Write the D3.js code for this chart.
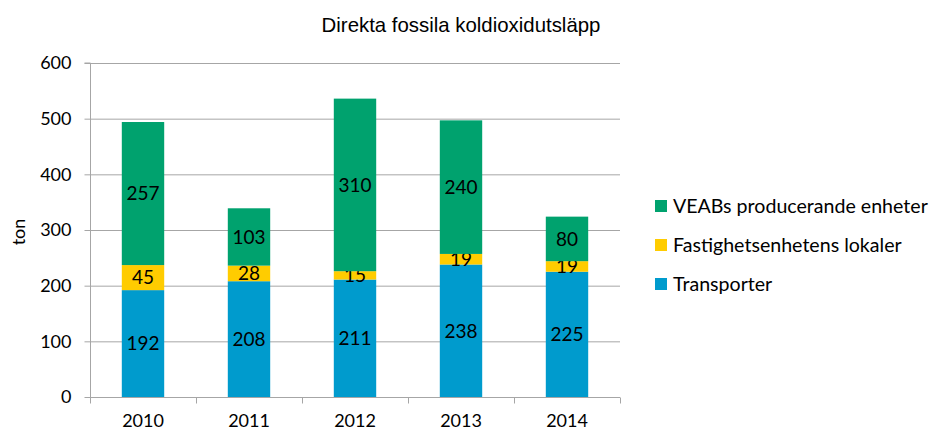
<!DOCTYPE html>
<html><head><meta charset="utf-8">
<script src="https://cdn.jsdelivr.net/npm/d3@7"></script>
<style>body{margin:0;background:#fff}svg{display:block}</style>
</head><body>
<svg id="c" width="933" height="433"></svg>
<script>
const years = ["2010","2011","2012","2013","2014"];
const seriesNames = ["Transporter","Fastighetsenhetens lokaler","VEABs producerande enheter"];
const transporter = [192,208,211,238,225];
const fastighet = [45,28,15,19,19];
const veab = [257,103,310,240,80];
const yTicks = [0,100,200,300,400,500,600];
const colors = ["#009BCD","#FFCC00","#00A26E"];
const title = "Direkta fossila koldioxidutsläpp";
const yLabel = "ton";

const seriesVals = [transporter, fastighet, veab];
const rows = years.map((y,i)=>{const r={year:y}; seriesNames.forEach((s,k)=>r[s]=seriesVals[k][i]); return r;});
const stack = d3.stack().keys(seriesNames)(rows);

const svg = d3.select("#c");
const L=90, R=620, T=63, B=397;
const x = d3.scaleBand().domain(years).range([L,R]).paddingInner(0.6).paddingOuter(0.3);
const y = d3.scaleLinear().domain([0,600]).range([B,T]);
const font = "Lato, 'Open Sans', sans-serif";

// grid
svg.append("g").selectAll("line").data(yTicks.filter(d=>d>0)).join("line")
  .attr("x1",L).attr("x2",R).attr("y1",d=>y(d)+0.5).attr("y2",d=>y(d)+0.5)
  .attr("stroke","#A6A6A6").attr("stroke-width",1);

// bars
const g = svg.append("g");
stack.forEach((s,k)=>{
  g.append("g").selectAll("rect").data(s).join("rect")
    .attr("x",d=>x(d.data.year)).attr("width",x.bandwidth())
    .attr("y",d=>y(d[1])).attr("height",d=>y(d[0])-y(d[1]))
    .attr("fill",colors[k]);
  g.append("g").selectAll("text").data(s).join("text")
    .attr("x",d=>x(d.data.year)+x.bandwidth()/2)
    .attr("y",d=>(y(d[0])+y(d[1]))/2)
    .attr("dy","0.36em").attr("text-anchor","middle")
    .attr("font-family",font).attr("font-size",19).attr("fill","#000")
    .text(d=>d[1]-d[0]);
});

// y axis
const ya = svg.append("g").attr("transform",`translate(${L+0.5},0)`)
  .call(d3.axisLeft(y).tickValues(yTicks).tickSize(6).tickPadding(13));
ya.select(".domain").attr("stroke","#A6A6A6").attr("d",`M-6,${T}H0V${B}`);
ya.selectAll(".tick line").attr("stroke","#A6A6A6");
ya.selectAll(".tick text").attr("font-family",font).attr("font-size",18).attr("fill","#000");
ya.selectAll(".tick").attr("transform",d=>`translate(0,${y(d)+0.5})`);

// x axis
const xa = svg.append("g").attr("transform",`translate(0,${B+0.5})`)
  .call(d3.axisBottom(x).tickSize(0).tickPadding(17));
xa.select(".domain").attr("stroke","#A6A6A6").attr("d",`M${L},0H${R}`);
xa.selectAll(".tick text").attr("font-family",font).attr("font-size",18).attr("fill","#000");
xa.append("g").selectAll("line").data(d3.range(years.length+1)).join("line")
  .attr("x1",i=>L+i*(R-L)/years.length+0.5).attr("x2",i=>L+i*(R-L)/years.length+0.5)
  .attr("y1",0).attr("y2",6).attr("stroke","#A6A6A6");

// y label
svg.append("text").attr("transform",`translate(25,232) rotate(-90)`)
  .attr("text-anchor","middle").attr("font-family",font).attr("font-size",18).text(yLabel);

// title
svg.append("text").attr("x",461).attr("y",32).attr("text-anchor","middle")
  .attr("font-family","'Liberation Sans', Arial, sans-serif").attr("font-size",20.4).text(title);

// legend
const leg = svg.append("g");
const legItems = seriesNames.map((n,k)=>({n,c:colors[k]})).reverse();
leg.selectAll("rect").data(legItems).join("rect")
  .attr("x",655).attr("y",(d,i)=>200+i*39).attr("width",12).attr("height",12).attr("fill",d=>d.c);
leg.selectAll("text").data(legItems).join("text")
  .attr("x",673).attr("y",(d,i)=>206+i*39).attr("dy","0.36em")
  .attr("font-family",font).attr("font-size",19.6).text(d=>d.n);
</script>
</body></html>
